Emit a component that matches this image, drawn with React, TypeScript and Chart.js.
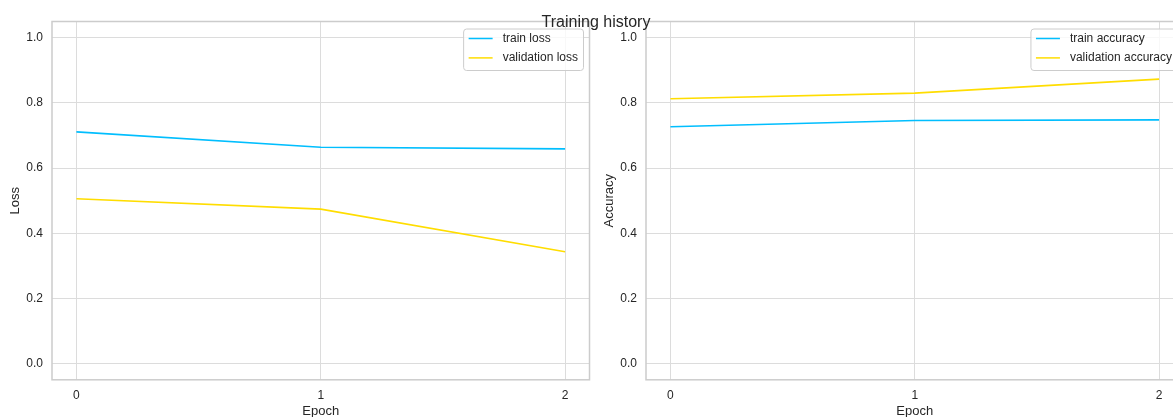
import React, { useEffect, useRef } from "react";
import { Chart, registerables } from "chart.js";

Chart.register(...registerables);

const epochs = [0, 1, 2];
const trainLoss = [0.711, 0.664, 0.659];
const valLoss = [0.506, 0.474, 0.343];
const trainAcc = [0.727, 0.746, 0.748];
const valAcc = [0.813, 0.83, 0.873];
const xTicks = [0, 1, 2];
const yTicks = [0, 0.2, 0.4, 0.6, 0.8, 1.0];

const TRAIN_COLOR = "#01BEFE";
const VAL_COLOR = "#FFDD00";
const FONT = "'Liberation Sans', Arial, sans-serif";
const TEXT = "#262626";
const GRID = "#dcdcdc";
const FRAME = "#cccccc";

const framePlugin = {
  id: "frameBox",
  afterDatasetsDraw(chart: any) {
    const { ctx, chartArea: a } = chart;
    ctx.save();
    ctx.strokeStyle = FRAME;
    ctx.lineWidth = 1.5;
    ctx.strokeRect(a.left, a.top, a.right - a.left, a.bottom - a.top);
    ctx.restore();
  },
};

const legendPlugin = {
  id: "legendBox",
  afterDraw(chart: any) {
    const { ctx, chartArea: a } = chart;
    const items = chart.data.datasets;
    ctx.save();
    ctx.font = `12px ${FONT}`;
    const w = Math.max(...items.map((d: any) => ctx.measureText(d.label).width));
    const right = a.right - 6;
    const left = right - (5 + 24 + 10 + w + 5.5);
    const top = a.top + 7.5;
    const h = 41.5;
    ctx.beginPath();
    (ctx as any).roundRect(left, top, right - left, h, 3);
    ctx.fillStyle = "rgba(255,255,255,0.8)";
    ctx.fill();
    ctx.strokeStyle = FRAME;
    ctx.lineWidth = 1;
    ctx.stroke();
    items.forEach((d: any, i: number) => {
      const y = top + 9.5 + i * 19.4;
      ctx.beginPath();
      ctx.moveTo(left + 5, y);
      ctx.lineTo(left + 29, y);
      ctx.strokeStyle = d.borderColor;
      ctx.lineWidth = 1.5;
      ctx.stroke();
      ctx.fillStyle = TEXT;
      ctx.textBaseline = "middle";
      ctx.textAlign = "left";
      ctx.fillText(d.label, left + 39, y);
    });
    ctx.restore();
  },
};

type Series = { label: string; values: number[]; color: string };

function Panel(props: {
  left: number;
  width: number;
  yAxisWidth: number;
  rightPad: number;
  yTitle: string;
  yTitlePad: number;
  series: Series[];
}) {
  const ref = useRef<HTMLCanvasElement>(null);
  const height = 430;
  useEffect(() => {
    if (!ref.current) return;
    const chart = new Chart(ref.current, {
      type: "line",
      data: {
        datasets: props.series.map((s) => ({
          label: s.label,
          data: epochs.map((e, i) => ({ x: e, y: s.values[i] })),
          borderColor: s.color,
          backgroundColor: s.color,
          borderWidth: 1.6,
          pointRadius: 0,
          tension: 0,
          fill: false,
        })),
      },
      options: {
        responsive: false,
        animation: false,
        layout: { padding: { top: 21.5, right: props.rightPad, left: 0, bottom: 0 } },
        plugins: {
          legend: { display: false },
          tooltip: { enabled: false },
        },
        scales: {
          x: {
            type: "linear",
            min: -0.1,
            max: 2.1,
            afterBuildTicks: (s: any) => {
              s.ticks = xTicks.map((v) => ({ value: v }));
            },
            afterFit: (s: any) => {
              s.height = 50.2;
            },
            grid: { color: GRID, lineWidth: 1, drawTicks: false },
            border: { display: false },
            ticks: {
              padding: 9,
              color: TEXT,
              font: { family: FONT, size: 12 },
              callback: (v: any) => String(v),
            },
            title: {
              display: true,
              text: "Epoch",
              color: TEXT,
              font: { family: FONT, size: 13 },
              padding: { top: 0, bottom: 11 },
            },
          },
          y: {
            type: "linear",
            min: -0.05,
            max: 1.05,
            afterBuildTicks: (s: any) => {
              s.ticks = yTicks.map((v) => ({ value: v }));
            },
            afterFit: (s: any) => {
              s.width = props.yAxisWidth;
            },
            grid: { color: GRID, lineWidth: 1, drawTicks: false },
            border: { display: false },
            ticks: {
              padding: 9,
              color: TEXT,
              font: { family: FONT, size: 12 },
              callback: (v: any) => Number(v).toFixed(1),
            },
            title: {
              display: true,
              text: props.yTitle,
              color: TEXT,
              font: { family: FONT, size: 13 },
              padding: { top: props.yTitlePad, bottom: 0 },
            },
          },
        },
      },
      plugins: [framePlugin, legendPlugin],
    } as any);
    return () => chart.destroy();
  }, []);
  return (
    <canvas
      ref={ref}
      width={props.width}
      height={height}
      style={{ position: "absolute", left: props.left, top: 0, width: props.width, height }}
    />
  );
}

export default function App() {
  return (
    <div
      style={{
        position: "absolute",
        left: 0,
        top: 0,
        width: 1173,
        height: 417,
        overflow: "hidden",
        background: "#ffffff",
      }}
    >
      <Panel
        left={0}
        width={600}
        yAxisWidth={52}
        rightPad={10.5}
        yTitle="Loss"
        yTitlePad={8}
        series={[
          { label: "train loss", values: trainLoss, color: TRAIN_COLOR },
          { label: "validation loss", values: valLoss, color: VAL_COLOR },
        ]}
      />
      <Panel
        left={595}
        width={600}
        yAxisWidth={51}
        rightPad={11.5}
        yTitle="Accuracy"
        yTitlePad={7}
        series={[
          { label: "train accuracy", values: trainAcc, color: TRAIN_COLOR },
          { label: "validation accuracy", values: valAcc, color: VAL_COLOR },
        ]}
      />
      <div
        style={{
          position: "absolute",
          left: 0,
          top: 14,
          width: 1192,
          textAlign: "center",
          fontFamily: FONT,
          fontSize: 16,
          lineHeight: "16px",
          color: TEXT,
          zIndex: 2,
        }}
      >
        Training history
      </div>
    </div>
  );
}
